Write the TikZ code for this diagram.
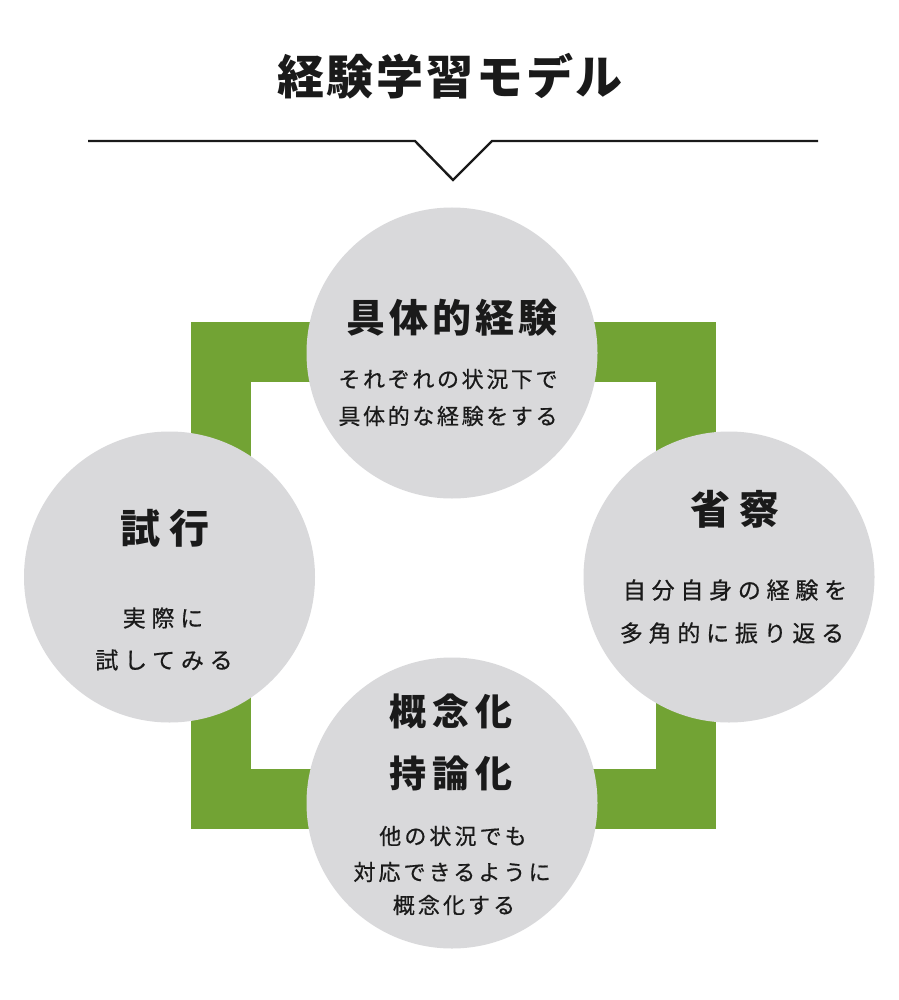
\documentclass[tikz,border=0pt]{standalone}
\usepackage{fontspec}
\newfontfamily\jp{Noto Sans CJK JP}
\newfontfamily\jpm{Noto Sans CJK JP}[FakeBold=0.6]
\definecolor{grn}{HTML}{72A334}
\definecolor{cgray}{HTML}{D9D9DB}
\definecolor{ink}{HTML}{1A1A1A}
\tikzset{
  bubble/.style={circle, fill=cgray, minimum size=291pt, inner sep=0pt},
  ttl/.style={inner sep=0pt, text=ink, font={\jp\bfseries\fontsize{47pt}{50pt}\selectfont\addfontfeatures{LetterSpace=6}}},
  headtop/.style={inner sep=0pt, text=ink, font={\jp\bfseries\fontsize{39pt}{42pt}\selectfont\addfontfeatures{LetterSpace=10}}},
  headside/.style={inner sep=0pt, text=ink, font={\jp\bfseries\fontsize{40pt}{44pt}\selectfont\addfontfeatures{LetterSpace=22}}},
  headbot/.style={inner sep=0pt, text=ink, font={\jp\bfseries\fontsize{37pt}{41pt}\selectfont\addfontfeatures{LetterSpace=15}}},
  subtop/.style={inner sep=0pt, text=ink, font={\jpm\fontsize{22pt}{26pt}\selectfont\addfontfeatures{LetterSpace=12}}},
  subside/.style={inner sep=0pt, text=ink, font={\jpm\fontsize{23pt}{27pt}\selectfont\addfontfeatures{LetterSpace=25}}},
  subbot/.style={inner sep=0pt, text=ink, font={\jpm\fontsize{22pt}{26pt}\selectfont\addfontfeatures{LetterSpace=14}}},
  frame/.style={draw=grn, line width=60pt, miter limit=10},
  rule/.style={draw=ink, line width=2.4pt}
}
\begin{document}
\begin{tikzpicture}[x=1pt,y=-1pt]
\useasboundingbox[fill=white] (0,0) rectangle (898,1000);
% title
\node[ttl] (title) at (450,76) {経験学習モデル};
% rule with notch
\coordinate (rl) at (88,141);
\coordinate (n1) at (415,141);
\coordinate (nb) at (453,180);
\coordinate (n2) at (492,141);
\coordinate (rr) at (818,141);
\draw[rule] (rl) -- (n1) -- (nb) -- (n2) -- (rr);
% green frame
\draw[frame] (221,352) rectangle (686,799);
% circles
\node[bubble] (top) at (452,353) {};
\node[bubble] (right) at (729,577) {};
\node[bubble] (left) at (169.5,577) {};
\node[bubble] (bot) at (452,803) {};
% texts top
\node[headtop] (t1) at (452,318) {具体的経験};
\node[subtop] (t2) at (448,379) {それぞれの状況下で};
\node[subtop] (t3) at (448,416) {具体的な経験をする};
% right
\node[headside] (r1) at (735,509) {省察};
\node[subside] (r2) at (735,590) {自分自身の経験を};
\node[subside] (r3) at (732,633) {多角的に振り返る};
% left
\node[headside] (l1) at (165,528) {試行};
\node[subside] (l2) at (163,618) {実際に};
\node[subside] (l3) at (164,660) {試してみる};
% bottom
\node[headbot] (b1) at (451,711) {概念化};
\node[headbot] (b2) at (451,773) {持論化};
\node[subbot] (b3) at (453,836) {他の状況でも};
\node[subbot] (b4) at (452,872) {対応できるように};
\node[subbot] (b5) at (454,905) {概念化する};
\end{tikzpicture}
\end{document}
